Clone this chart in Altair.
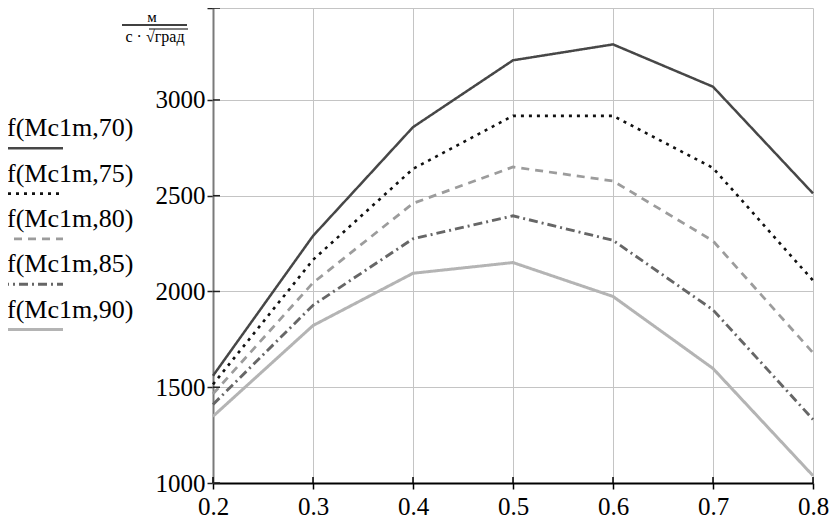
import altair as alt
import pandas as pd

# ---- data ----
x_vals = [0.2, 0.3, 0.4, 0.5, 0.6, 0.7, 0.8]
f70 = [1560, 2290, 2858, 3207, 3290, 3069, 2512]
f75 = [1515, 2165, 2640, 2917, 2917, 2645, 2057]
f80 = [1465, 2045, 2460, 2650, 2577, 2264, 1680]
f85 = [1410, 1928, 2275, 2395, 2267, 1904, 1332]
f90 = [1348, 1822, 2095, 2151, 1974, 1598, 1038]
series_labels = ["f(Mc1m,70)", "f(Mc1m,75)", "f(Mc1m,80)", "f(Mc1m,85)", "f(Mc1m,90)"]
y_ticks = [1000, 1500, 2000, 2500, 3000, 3480]
unit_num = "м"
unit_den = "с · √град"

# ---- styles ----
FONT = "Liberation Serif"
colors = ["#474747", "#111111", "#9c9c9c", "#666666", "#b4b4b4"]
dashes = [[1, 0], [3, 5], [8, 6], [9, 4, 2, 4], [1, 0]]
widths = [2.5, 3, 2.5, 2.5, 2.5]

rows = []
for lab, vals in zip(series_labels, [f70, f75, f80, f85, f90]):
    for xv, yv in zip(x_vals, vals):
        rows.append({"x": xv, "value": yv, "series": lab})
df = pd.DataFrame(rows)
leg_df = pd.DataFrame({"series": series_labels})

W, H = 600, 475
xscale = alt.Scale(domain=[0.2, 0.8], nice=False, zero=False)
yscale = alt.Scale(domain=[1000, 3480], nice=False, zero=False)
cscale = alt.Scale(domain=series_labels, range=colors)
dscale = alt.Scale(domain=series_labels, range=dashes)
wscale = alt.Scale(domain=series_labels, range=widths)
legscale = alt.Scale(type="point", domain=series_labels, range=[140.3, 321.5], padding=0)

lines = alt.Chart(df).mark_line(strokeCap="butt").encode(
    x=alt.X("x:Q", scale=xscale, axis=alt.Axis(
        values=x_vals, format=".1f", title=None, grid=True,
        gridColor="#c4c4c4", gridWidth=1,
        domainColor="#000000", domainWidth=2,
        tickColor="#000000", tickWidth=1.5, tickSize=6,
        labels=True, labelOverlap=False, labelBound=False,
        labelFont=FONT, labelFontSize=25, labelColor="#000000",
        labelPadding=5, labelFlush=False)),
    y=alt.Y("value:Q", scale=yscale, axis=alt.Axis(
        values=y_ticks, title=None, grid=True,
        labelExpr="datum.value > 3400 ? '' : format(datum.value, 'd')",
        gridColor="#c4c4c4", gridWidth=1,
        domainColor="#7a7a7a", domainWidth=2,
        tickColor="#222222", tickWidth=1.5, tickSize=6,
        labelOverlap=False,
        labelFont=FONT, labelFontSize=25, labelColor="#000000",
        labelPadding=2, labelFlush=False)),
    color=alt.Color("series:N", scale=cscale, legend=None),
    strokeDash=alt.StrokeDash("series:N", scale=dscale, legend=None),
    strokeWidth=alt.StrokeWidth("series:N", scale=wscale, legend=None),
)

# inner halves of the crossing ticks
xt = alt.Chart(pd.DataFrame({"x": x_vals})).mark_rule(color="#000000", strokeWidth=1.5).encode(
    x=alt.X("x:Q", scale=xscale),
    y=alt.value(H - 6), y2=alt.value(H),
)
yt = alt.Chart(pd.DataFrame({"v": y_ticks})).mark_rule(color="#222222", strokeWidth=1.5).encode(
    y=alt.Y("v:Q", scale=yscale, axis=None),
    x=alt.value(0), x2=alt.value(7),
)

# custom legend on the left (label above its line sample)
leg_text = alt.Chart(leg_df).mark_text(
    align="left", baseline="alphabetic", dy=-12, font=FONT, fontSize=26, color="#000000"
).encode(
    text="series:N",
    x=alt.value(-206),
    y=alt.Y("series:N", scale=legscale, axis=None),
)
leg_rule = alt.Chart(leg_df).mark_rule(strokeCap="butt").encode(
    x=alt.value(-213), x2=alt.value(-150),
    y=alt.Y("series:N", scale=legscale, axis=None),
    color=alt.Color("series:N", scale=cscale, legend=None),
    strokeDash=alt.StrokeDash("series:N", scale=dscale, legend=None),
    strokeWidth=alt.StrokeWidth("series:N", scale=wscale, legend=None),
)

# unit label (fraction) at top of the y axis
one = pd.DataFrame({"a": [0]})
u_num = alt.Chart(pd.DataFrame({"t": [unit_num]})).mark_text(
    font=FONT, fontSize=15, align="center", baseline="alphabetic", color="#000000"
).encode(text="t:N", x=alt.value(-61), y=alt.value(14))
u_bar = alt.Chart(one).mark_rule(color="#000000", strokeWidth=1.3).encode(
    x=alt.value(-91), x2=alt.value(-26), y=alt.value(17))
u_den = alt.Chart(pd.DataFrame({"t": [unit_den]})).mark_text(
    font=FONT, fontSize=16, align="center", baseline="alphabetic", color="#000000"
).encode(text="t:N", x=alt.value(-58), y=alt.value(34))
u_over = alt.Chart(one).mark_rule(color="#000000", strokeWidth=1).encode(
    x=alt.value(-64), x2=alt.value(-25), y=alt.value(21))

chart = alt.layer(
    lines, xt, yt, leg_text, leg_rule, u_num, u_bar, u_den, u_over
).resolve_scale(
    y="independent"
).properties(
    width=W, height=H,
    padding={"left": 205, "top": 0, "right": 17, "bottom": 35},
    autosize=alt.AutoSizeParams(type="none"),
    background="#ffffff",
).configure_view(stroke=None)

chart.save("out.html", embed_options={"renderer": "svg", "actions": False})
